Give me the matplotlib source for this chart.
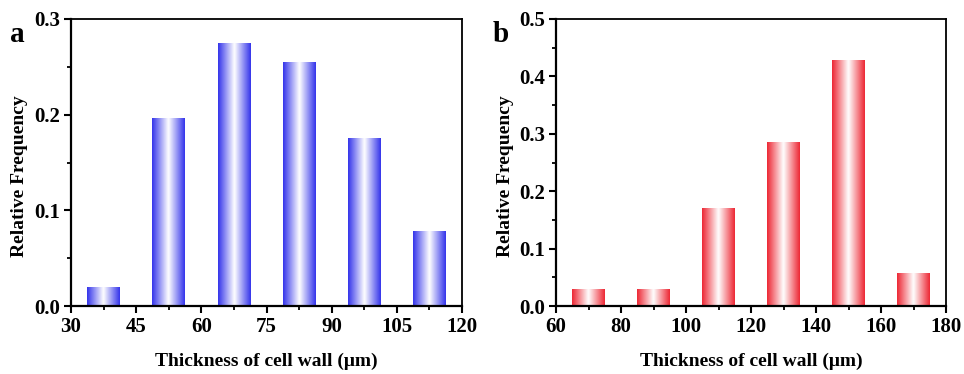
import matplotlib
matplotlib.use("Agg")
import matplotlib.pyplot as plt
import numpy as np
from matplotlib.ticker import MultipleLocator, FormatStrFormatter
from matplotlib.colors import LinearSegmentedColormap

# Data
a_centers = [37.5, 52.5, 67.5, 82.5, 97.5, 112.5]
a_values = [0.020, 0.196, 0.275, 0.255, 0.176, 0.078]
b_centers = [70, 90, 110, 130, 150, 170]
b_values = [0.029, 0.029, 0.171, 0.286, 0.429, 0.057]

plt.rcParams['font.family'] = ['Liberation Serif', 'DejaVu Serif']
plt.rcParams['font.weight'] = 'bold'

fig = plt.figure(figsize=(9.64, 3.74), dpi=100)
W, H = 964, 374
axA = fig.add_axes([71 / W, 1 - 306 / H, (462 - 71) / W, (306 - 19) / H])
axB = fig.add_axes([556 / W, 1 - 306 / H, (946 - 556) / W, (306 - 19) / H])


def grad_bars(ax, centers, values, width, edge_rgb):
    bars = ax.bar(centers, values, width=width, color='none', edgecolor='none')
    cmap = LinearSegmentedColormap.from_list(
        'g', [edge_rgb, (1, 1, 1), edge_rgb])
    grad = np.linspace(0, 1, 256).reshape(1, -1)
    for b in bars:
        x0, y0 = b.get_x(), b.get_y()
        w, h = b.get_width(), b.get_height()
        im = ax.imshow(grad, cmap=cmap, aspect='auto', interpolation='bicubic',
                       extent=[x0, x0 + w, y0, y0 + h], zorder=2)
        im.set_clip_path(b)
    return bars


def style(ax, xlim, ylim, xmaj, xmin, ymaj, ymin):
    ax.set_xlim(*xlim)
    ax.set_ylim(*ylim)
    ax.xaxis.set_major_locator(MultipleLocator(xmaj))
    ax.xaxis.set_minor_locator(MultipleLocator(xmin))
    ax.yaxis.set_major_locator(MultipleLocator(ymaj))
    ax.yaxis.set_minor_locator(MultipleLocator(ymin))
    ax.yaxis.set_major_formatter(FormatStrFormatter('%.1f'))
    ax.tick_params(which='major', direction='out', length=5, width=1.5,
                   labelsize=15, pad=3)
    ax.tick_params(which='minor', direction='out', length=3, width=1.3)
    ax.tick_params(top=False, right=False, which='both')
    for s in ax.spines.values():
        s.set_linewidth(1.6)
    ax.spines['top'].set_linewidth(1.3)
    ax.spines['right'].set_linewidth(1.3)
    for lab in ax.get_xticklabels() + ax.get_yticklabels():
        lab.set_fontweight('bold')
    ax.set_xlabel('Thickness of cell wall (μm)', fontsize=14,
                  fontweight='bold', labelpad=11)
    ax.set_ylabel('Relative Frequency', fontsize=14, fontweight='bold',
                  labelpad=5)
    ax.yaxis.set_label_coords(ax.yaxis.label.get_position()[0], 0.453)


grad_bars(axA, a_centers, a_values, 7.5, (0.2, 0.2, 0.92))
style(axA, (30, 120), (0, 0.3), 15, 7.5, 0.1, 0.05)

grad_bars(axB, b_centers, b_values, 10, (0.93, 0.15, 0.2))
style(axB, (60, 180), (0, 0.5), 20, 10, 0.1, 0.05)

# y-label horizontal positions (axes fraction) from the reference
axA.yaxis.set_label_coords((20 - 71) / (462 - 71), 0.453)
axB.yaxis.set_label_coords((505 - 556) / (946 - 556), 0.453)
axA.yaxis.label.set_verticalalignment('center')
axB.yaxis.label.set_verticalalignment('center')

fig.text(10 / W, 1 - 34 / H, 'a', fontsize=21, fontweight='bold',
         va='center', ha='left')
fig.text(493 / W, 1 - 34 / H, 'b', fontsize=21, fontweight='bold',
         va='center', ha='left')

fig.savefig('out.png', dpi=100)
